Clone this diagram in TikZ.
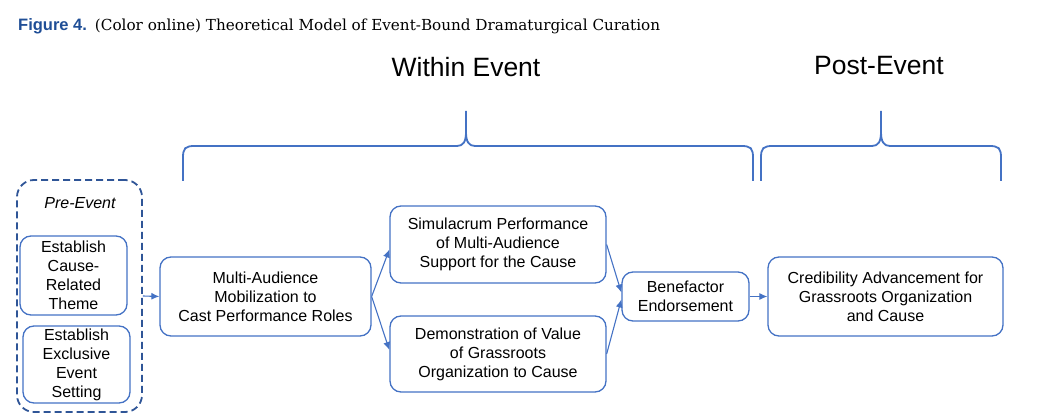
\documentclass[tikz,border=0pt]{standalone}
\usepackage{fontspec}
\newfontfamily\arial{Liberation Sans}
\newfontfamily\capfont{DejaVu Serif}
\usetikzlibrary{calc}
\usetikzlibrary{arrows,arrows.meta,shapes}
\definecolor{boxblue}{RGB}{68,114,196}
\definecolor{dashblue}{RGB}{47,85,151}
\definecolor{figblue}{RGB}{31,78,150}
\tikzstyle{box} = [draw=boxblue, line width=1.3pt, rounded corners=11pt, align=center, inner sep=0pt, font=\arial\fontsize{16}{19}\selectfont]
\tikzstyle{dashbox} = [draw=dashblue, line width=1.8pt, dash pattern=on 7pt off 4pt, rounded corners=17pt, inner sep=0pt]
\tikzstyle{conn} = [-{Latex[length=8pt,width=7pt]}, draw=boxblue, line width=1.1pt]
\tikzstyle{brace} = [draw=boxblue, line width=1.8pt]
\tikzstyle{phase} = [inner sep=0pt, font=\arial\fontsize{26.5}{30}\selectfont]

\begin{document}
\begin{tikzpicture} [x=1pt, y=-1pt]

						\useasboundingbox (0,0) rectangle (1042,419);

						\node[anchor=base west, inner sep=0pt] (title) at (18,31) {{\arial\bfseries\fontsize{16.5}{19}\selectfont\color{figblue}Figure 4.}\hspace{8pt}{\capfont\fontsize{15.2}{18}\selectfont(Color online) Theoretical Model of Event-Bound Dramaturgical Curation}};

						\node[phase] (within) at (466,67) {Within Event};
						\node[phase] (post) at (879,66) {Post-Event};

						\draw[brace] (183,181) -- (183,158) .. controls (183,148) and (185,146) .. (195,146) -- (457,146) .. controls (463,146) and (466,142) .. (466,132) -- (466,111) -- (466,132) .. controls (466,142) and (469,146) .. (475,146) -- (741,146) .. controls (751,146) and (753,148) .. (753,158) -- (753,181);
						\draw[brace] (761,181) -- (761,158) .. controls (761,148) and (763,146) .. (773,146) -- (872,146) .. controls (878,146) and (881,142) .. (881,132) -- (881,111) -- (881,132) .. controls (881,142) and (884,146) .. (890,146) -- (989,146) .. controls (999,146) and (1001,148) .. (1001,158) -- (1001,181);

						\node[dashbox, minimum width=125pt, minimum height=232pt] (pre) at (79.5,296) {};
						\node[inner sep=0pt, font=\arial\itshape\fontsize{16}{19}\selectfont] (prelabel) at (80,203) {Pre-Event};
						\node[box, minimum width=107pt, minimum height=79pt] (theme) at (73.5,275.5) {Establish\\Cause-\\Related\\Theme};
						\node[box, minimum width=107pt, minimum height=77pt] (setting) at (76.5,364.5) {Establish\\Exclusive\\Event\\Setting};

						\node[box, minimum width=211pt, minimum height=79pt] (mob) at (265.5,296.5) {Multi-Audience\\Mobilization to\\Cast Performance Roles};
						\node[box, minimum width=216pt, minimum height=77pt] (sim) at (498,244.5) {Simulacrum Performance\\of Multi-Audience\\Support for the Cause};
						\node[box, minimum width=216pt, minimum height=76pt] (demo) at (498,354) {Demonstration of Value\\of Grassroots\\Organization to Cause};
						\node[box, minimum width=127pt, minimum height=49pt] (bene) at (685.5,296.5) {Benefactor\\Endorsement};
						\node[box, minimum width=235pt, minimum height=79pt] (cred) at (885.5,296.5) {Credibility Advancement for\\Grassroots Organization\\and Cause};

						\draw[conn] (pre.east) -- (mob.west);
						\draw[conn] (mob.east) -- ([yshift=-5pt]sim.west);
						\draw[conn] (mob.east) -- ([yshift=4pt]demo.west);
						\draw[conn] (sim.east) -- ([yshift=4pt]bene.west);
						\draw[conn] (demo.east) -- ([yshift=-3pt]bene.west);
						\draw[conn] (bene.east) -- (cred.west);

					\end{tikzpicture}
\end{document}
